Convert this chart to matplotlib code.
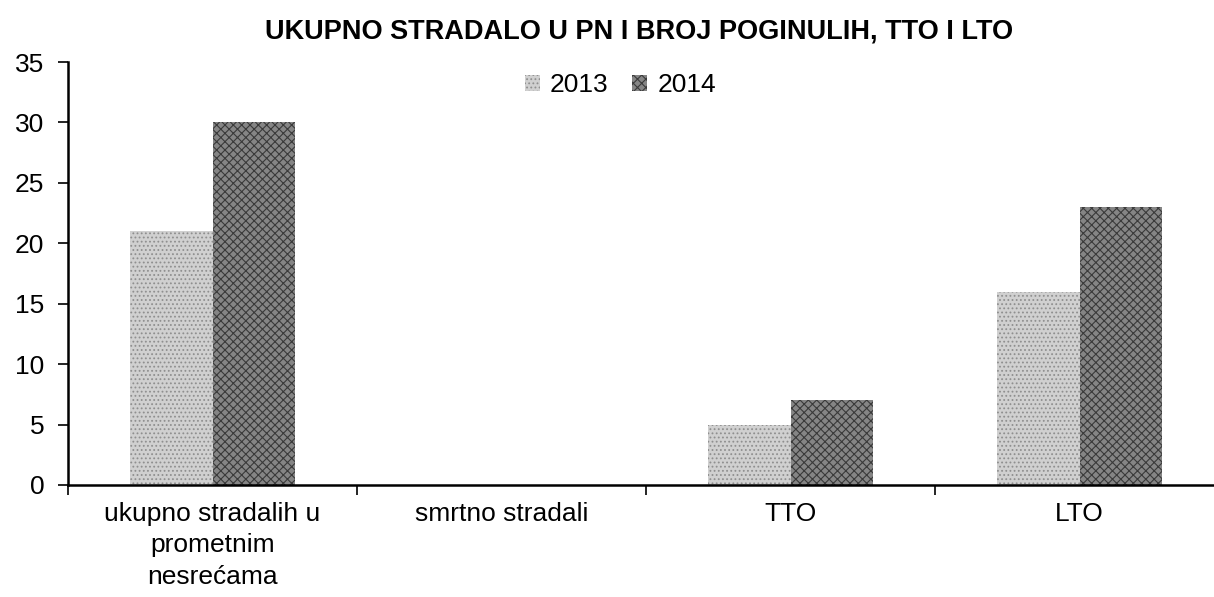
import matplotlib
matplotlib.use("Agg")
import matplotlib.pyplot as plt
import numpy as np

categories = ["ukupno stradalih u\nprometnim\nnesrećama", "smrtno stradali", "TTO", "LTO"]
series_names = ["2013", "2014"]
values_2013 = [21, 0, 5, 16]
values_2014 = [30, 0, 7, 23]
title = "UKUPNO STRADALO U PN I BROJ POGINULIH, TTO I LTO"

plt.rcParams['font.family'] = ['Liberation Sans', 'DejaVu Sans']
plt.rcParams['hatch.linewidth'] = 0.8

fig = plt.figure(figsize=(12.14, 5.97), dpi=100)
ax = fig.add_axes([68/1214, 1-485/597, 1156/1214, (485-62)/597])

x = np.arange(len(categories))
w = 0.287
ax.bar(x - w/2, values_2013, w, facecolor="#d0d0d0", edgecolor="#8f8f8f",
       hatch="....", linewidth=0, label=series_names[0])
ax.bar(x + w/2, values_2014, w, facecolor="#858585", edgecolor="#3a3a3a",
       hatch="xxxx", linewidth=0, label=series_names[1])

ax.set_ylim(0, 35)
ax.set_yticks(range(0, 36, 5))
ax.set_xlim(-0.5, 3.5)
ax.set_xticks(np.arange(-0.5, 3.6, 1.0))
ax.set_xticklabels([])
ax.set_xticks(x, minor=True)
ax.set_xticklabels(categories, minor=True, fontsize=19, linespacing=1.4)
ax.tick_params(axis='x', which='minor', length=0, pad=12)
ax.tick_params(axis='x', which='major', length=7, width=1.2, direction='out')
ax.tick_params(axis='y', length=7, width=1.2, labelsize=19, pad=10)

for s in ['top', 'right']:
    ax.spines[s].set_visible(False)
for s in ['left', 'bottom']:
    ax.spines[s].set_linewidth(1.8)

fig.text(0.526, 0.948, title, ha='center', va='center', fontsize=19.5, fontweight='bold')
ax.legend(loc='center', bbox_to_anchor=(0.478, 0.945), ncol=2, frameon=False,
          fontsize=19, handlelength=0.55, handleheight=0.55, handletextpad=0.4,
          columnspacing=0.9, borderpad=0)

fig.savefig("out.png", dpi=100)
